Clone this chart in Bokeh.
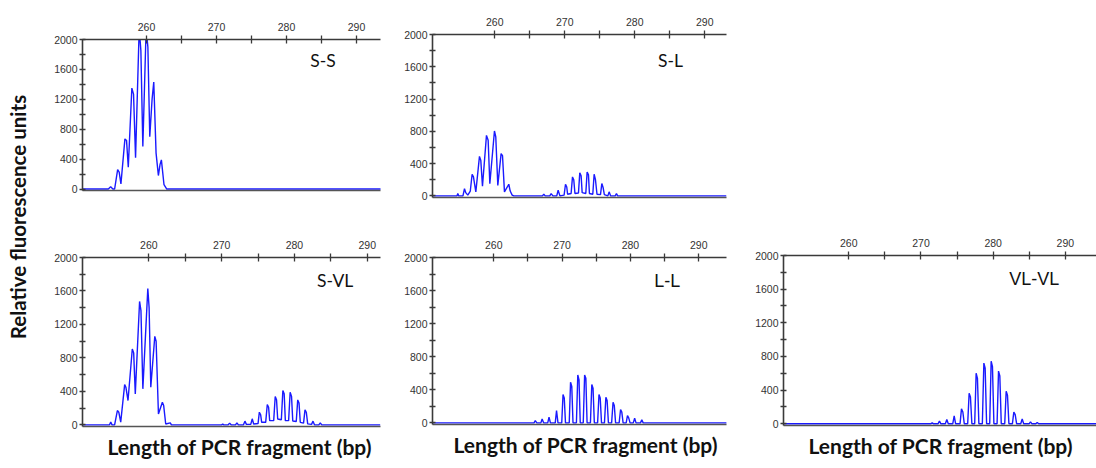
import math
from bokeh.plotting import figure
from bokeh.models import Range1d, LinearAxis, FixedTicker, Label, Spacer, Title
from bokeh.layouts import row, column
from bokeh.embed import file_html
from bokeh.resources import INLINE

# ---------------- data ----------------
x_major_ticks = [260, 270, 280, 290]
x_minor_ticks = [265, 275, 285]
y_major_ticks = [0, 400, 800, 1200, 1600, 2000]
y_minor_ticks = [200, 600, 1000, 1400, 1800]

genotypes = ["S-S", "S-L", "S-VL", "L-L", "VL-VL"]
x_title = "Length of PCR fragment (bp)"
y_title = "Relative fluorescence units"

ss_bp = [250.9, 254.55, 254.88, 255.2, 255.45,
         255.88, 256.1, 256.35, 256.92, 257.15, 257.4,
         257.91, 258.15, 258.44, 258.96, 259.2, 259.48,
         259.95, 260.2, 260.47, 260.8, 261.04, 261.37,
         261.7, 261.94, 262.13, 262.5, 262.9, 293.5]
ss_rfu = [0, 0, 30, 0, 0,
          259, 225, 67, 670, 650, 290,
          1350, 1270, 420, 2150, 1850, 570,
          2150, 1900, 700, 1200, 1430, 480,
          180, 330, 390, 60, 0, 0]

sl_bp = [251.1, 254.6, 254.71, 254.85, 255.45,
         255.67, 255.85, 256.14, 256.5, 256.76,
         256.95, 257.29, 257.81, 258.0, 258.24,
         258.81, 259.05, 259.29, 259.95, 260.14,
         260.43, 260.9, 261.1, 261.38, 262.0,
         262.2, 262.48, 262.71, 266.8, 267.0,
         267.2, 267.85, 268.05, 268.3, 268.85,
         269.05, 269.3, 269.9, 270.1, 270.28,
         270.4, 270.9, 271.1, 271.28, 271.45,
         271.95, 272.14, 272.33, 272.48, 273.0,
         273.19, 273.38, 273.52, 274.0, 274.19,
         274.38, 274.6, 275.1, 275.29, 275.48,
         275.65, 276.15, 276.33, 276.55, 277.2,
         277.38, 277.55, 293.1]
sl_rfu = [0, 0, 29, 0, 0,
          90, 40, 10, 60, 268,
          235, 50, 490, 440, 120,
          750, 690, 150, 804, 730,
          130, 524, 500, 50, 144,
          60, 10, 0, 0, 20,
          0, 0, 29, 0, 0,
          70, 0, 10, 144, 110,
          20, 30, 235, 200, 30,
          35, 285, 250, 40, 30,
          297, 260, 30, 20, 268,
          200, 20, 15, 153, 100,
          15, 0, 50, 0, 0,
          29, 0, 0]

svl_bp = [250.9, 254.6, 254.77, 254.95, 255.3,
          255.68, 255.88, 256.14, 256.68, 256.85,
          257.14, 257.73, 257.92, 258.14, 258.73,
          258.92, 259.18, 259.86, 260.04, 260.27,
          260.82, 261.0, 261.32, 261.86, 262.04,
          262.32, 262.95, 263.1, 270.0, 270.15,
          270.3, 270.9, 271.1, 271.3, 271.9,
          272.1, 272.3, 273.0, 273.2, 273.4,
          274.0, 274.2, 274.4, 275.0, 275.18,
          275.36, 275.5, 276.05, 276.27, 276.45,
          276.6, 277.15, 277.36, 277.54, 277.7,
          278.2, 278.41, 278.59, 278.75, 279.2,
          279.41, 279.6, 279.77, 280.25, 280.45,
          280.63, 280.8, 281.25, 281.45, 281.63,
          281.82, 282.35, 282.55, 282.75, 283.35,
          283.55, 283.75, 291.8]
svl_rfu = [0, 0, 32, 0, 0,
           171, 150, 32, 481, 450,
           290, 906, 860, 370, 1475,
           1364, 430, 1630, 1400, 450,
           1058, 1000, 130, 270, 230,
           10, 24, 0, 0, 10,
           0, 0, 20, 0, 0,
           24, 0, 0, 44, 5,
           5, 72, 10, 15, 151,
           120, 30, 30, 243, 210,
           50, 50, 338, 300, 70,
           60, 410, 370, 50, 50,
           390, 340, 45, 40, 298,
           260, 30, 20, 179, 150,
           12, 5, 44, 0, 0,
           24, 0, 0]

ll_bp = [251.0, 265.9, 266.08, 266.3, 266.9,
         267.08, 267.3, 267.9, 268.09, 268.3,
         269.0, 269.19, 269.4, 269.95, 270.14,
         270.32, 270.5, 271.05, 271.24, 271.42,
         271.6, 272.1, 272.3, 272.48, 272.66,
         273.1, 273.3, 273.48, 273.66, 274.15,
         274.35, 274.53, 274.72, 275.2, 275.4,
         275.58, 275.77, 276.2, 276.41, 276.59,
         276.78, 277.25, 277.46, 277.64, 277.83,
         278.35, 278.56, 278.74, 278.93, 279.38,
         279.57, 279.75, 279.95, 280.42, 280.62,
         280.82, 281.47, 281.67, 281.87, 294.1]
ll_rfu = [0, 0, 28, 0, 0,
          48, 0, 0, 68, 0,
          0, 149, 0, 0, 342,
          300, 0, 0, 491, 440,
          0, 0, 580, 520, 0,
          0, 580, 540, 0, 0,
          463, 420, 0, 0, 342,
          300, 0, 0, 310, 270,
          0, 0, 250, 210, 0,
          0, 161, 130, 0, 0,
          88, 60, 0, 0, 56,
          0, 0, 36, 0, 0]

vl_bp = [250.9, 271.35, 271.55, 271.75, 272.36,
         272.56, 272.76, 273.38, 273.58, 273.78,
         274.4, 274.6, 274.8, 275.41, 275.61,
         275.8, 276.0, 276.47, 276.67, 276.85,
         277.05, 277.44, 277.64, 277.82, 278.02,
         278.5, 278.71, 278.89, 279.09, 279.52,
         279.72, 279.9, 280.1, 280.54, 280.74,
         280.92, 281.12, 281.6, 281.8, 281.98,
         282.18, 282.66, 282.86, 283.05, 283.25,
         283.82, 284.02, 284.22, 284.97, 285.17,
         285.37, 285.9, 286.1, 286.3, 294.5]
vl_rfu = [0, 0, 12, 0, 0,
          32, 0, 0, 51, 0,
          0, 95, 0, 0, 178,
          140, 0, 0, 364, 320,
          0, 0, 602, 540, 0,
          0, 721, 660, 0, 0,
          744, 680, 0, 0, 626,
          570, 0, 0, 388, 340,
          0, 0, 139, 110, 0,
          0, 59, 0, 0, 24,
          0, 0, 16, 0, 0]

# ---------------- style ----------------
TRACE = "#1a1aff"
AXIS = "#3a3a3a"
TICK_FONT = "Liberation Sans"
TITLE_FONT = "Lato"


def make_panel(bp, rfu, label, xr, width, height, borders, lab_pos,
               lab_font, lab_size, title_offset=None):
    bl, br, bt, bb = borders
    p = figure(width=width, height=height,
               x_range=Range1d(*xr), y_range=Range1d(-20, 2000),
               x_axis_location="above", toolbar_location=None,
               output_backend="svg",
               min_border_left=bl, min_border_right=br,
               min_border_top=bt, min_border_bottom=bb)
    p.outline_line_color = None
    p.xgrid.visible = False
    p.ygrid.visible = False
    p.background_fill_color = "white"
    p.border_fill_color = "white"

    p.line(bp, rfu, line_color=TRACE, line_width=1.4)

    xa = p.xaxis[0]
    xa.ticker = FixedTicker(ticks=x_major_ticks, minor_ticks=x_minor_ticks)
    xa.axis_line_color = AXIS
    xa.axis_line_width = 1.6
    xa.major_tick_line_color = AXIS
    xa.minor_tick_line_color = AXIS
    xa.major_tick_line_width = 1.3
    xa.minor_tick_line_width = 1.3
    xa.major_tick_in = 4
    xa.major_tick_out = 4
    xa.minor_tick_in = 4
    xa.minor_tick_out = 4
    xa.major_label_standoff = 5
    xa.major_label_text_font = TICK_FONT
    xa.major_label_text_font_size = "10.5px"
    xa.major_label_text_color = "#333333"

    ya = p.yaxis[0]
    ya.ticker = FixedTicker(ticks=y_major_ticks, minor_ticks=y_minor_ticks)
    ya.axis_line_color = AXIS
    ya.axis_line_width = 1.6
    ya.major_tick_line_color = AXIS
    ya.minor_tick_line_color = AXIS
    ya.major_tick_line_width = 1.3
    ya.minor_tick_line_width = 1.3
    ya.major_tick_in = 3
    ya.major_tick_out = 3
    ya.minor_tick_in = 3
    ya.minor_tick_out = 3
    ya.major_label_standoff = 2
    ya.major_label_text_font = TICK_FONT
    ya.major_label_text_font_size = "10.5px"
    ya.major_label_text_color = "#333333"

    bottom = LinearAxis(ticker=FixedTicker(ticks=[]),
                        axis_line_color="#555555", axis_line_width=1.6,
                        major_tick_line_color=None, minor_tick_line_color=None)
    p.add_layout(bottom, "below")
    if title_offset is not None:
        p.add_layout(Title(text=x_title, align="left", offset=title_offset,
                           standoff=10, text_font=TITLE_FONT,
                           text_font_style="bold", text_font_size="21px",
                           text_color="#111111"), "below")

    p.add_layout(Label(x=lab_pos[0], y=lab_pos[1], text=label,
                       text_align="center", text_baseline="middle",
                       text_font=lab_font, text_font_size=lab_size,
                       text_color="#111111"))
    return p


p1 = make_panel(ss_bp, ss_rfu, genotypes[0], (250.86, 293.43), 360, 230,
                (42, 20, 39, 40), (285.2, 1719), TITLE_FONT, "17.5px")
p2 = make_panel(sl_bp, sl_rfu, genotypes[1], (251.1, 293.1), 345, 230,
                (32, 19, 34, 33), (285.1, 1678), TITLE_FONT, "17.5px")
p3 = make_panel(svl_bp, svl_rfu, genotypes[2], (250.89, 291.82), 360, 238,
                (42, 20, 27, 42), (285.6, 1722), TITLE_FONT, "17.5px", 25)
p4 = make_panel(ll_bp, ll_rfu, genotypes[3], (251.04, 294.06), 345, 238,
                (32, 14, 27, 44), (285.4, 1719), "Liberation Sans", "18px", 21)
p5 = make_panel(vl_bp, vl_rfu, genotypes[4], (250.96, 294.31), 351, 238,
                (38, 0, 25, 43), (285.7, 1715), "Liberation Sans", "18px", 25)

# y-title strip
yt = figure(width=40, height=468, x_range=Range1d(0, 40), y_range=Range1d(0, 468),
            x_axis_type=None, y_axis_type=None, toolbar_location=None,
            output_backend="svg", min_border=0)
yt.outline_line_color = None
yt.xgrid.visible = False
yt.ygrid.visible = False
yt.add_layout(Label(x=17, y=251.5, text=y_title, angle=math.pi / 2,
                    text_align="center", text_baseline="middle",
                    text_font=TITLE_FONT, text_font_style="bold",
                    text_font_size="20.5px", text_color="#111111"))

layout = row(yt,
             column(p1, p3),
             column(p2, p4),
             column(Spacer(width=351, height=230), p5))

open("out.html", "w").write(file_html(layout, INLINE))
